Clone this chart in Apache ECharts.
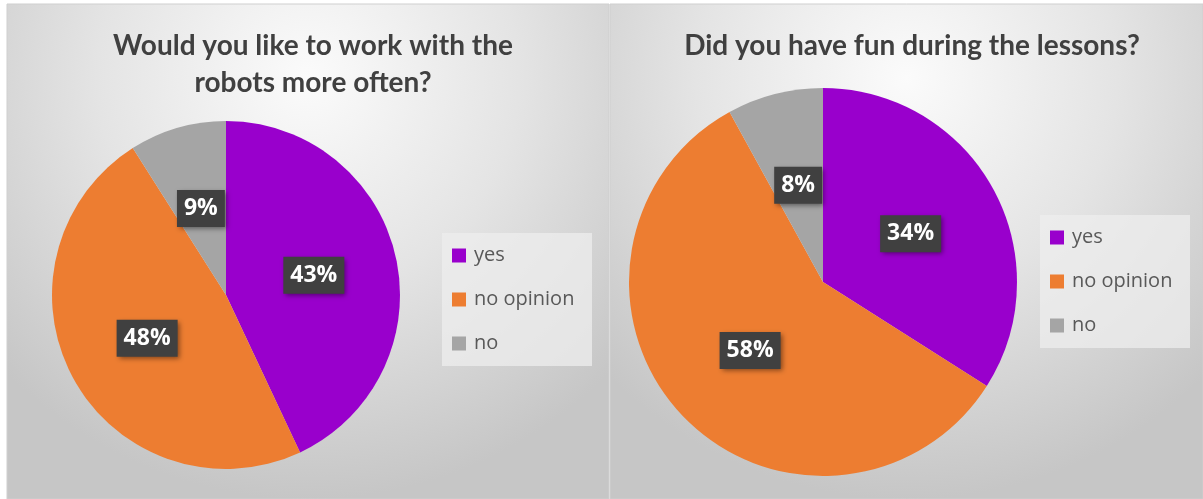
<!DOCTYPE html>
<html>
<head>
<meta charset="utf-8">
<script src="https://cdn.jsdelivr.net/npm/echarts@6/dist/echarts.min.js"></script>
<style>
  html, body { margin: 0; padding: 0; background: #ffffff; }
  #chart { width: 1203px; height: 499px; }
</style>
</head>
<body>
<div id="chart"></div>
<script>
// answers, shared by both charts
var categories = ['yes', 'no opinion', 'no'];
var colors = ['#9900cc', '#ed7d31', '#a5a5a5'];

// left: work with robots more often
var robotValues = [43, 48, 9];
// right: fun during the lessons
var funValues = [34, 58, 8];

var titles = ['Would you like to work with the\nrobots more often?', 'Did you have fun during the lessons?'];

function toData(values) {
    return categories.map(function (name, i) {
        return {name: name, value: values[i], itemStyle: {color: colors[i]}};
    });
}

function panelBg(x, w) {
    return {
        type: 'rect',
        shape: {x: x, y: 4, width: w, height: 495},
        style: {
            fill: new echarts.graphic.RadialGradient(0.5, 0.15, 0.85, [
                {offset: 0, color: '#fbfbfb'},
                {offset: 0.5, color: '#e4e4e4'},
                {offset: 1, color: '#c6c6c6'}
            ]),
            stroke: '#cfcfcf',
            lineWidth: 1
        },
        z: -10
    };
}

var labelStyle = {
    show: true,
    position: 'inside',
    formatter: '{c}%',
    color: '#ffffff',
    fontFamily: 'Open Sans',
    fontWeight: 'bold',
    fontSize: 23,
    backgroundColor: '#404040',
    padding: [8, 7, 6, 7],
    shadowColor: 'rgba(0,0,0,0.45)',
    shadowBlur: 5,
    shadowOffsetX: 2,
    shadowOffsetY: 2
};

var legendBase = {
    orient: 'vertical',
    icon: 'rect',
    itemWidth: 14,
    itemHeight: 14,
    itemGap: 23,
    backgroundColor: 'rgba(238,238,238,0.75)',
    padding: [12, 10, 12, 10],
    selectedMode: false,
    textStyle: {color: '#595959', fontFamily: 'Open Sans', fontSize: 20, lineHeight: 21, padding: [0, 0, 0, 3], width: 108},
    data: categories
};

var titleFont = {color: '#404040', fontFamily: 'Lato', fontWeight: 'bold', fontSize: 28, lineHeight: 37};

var chart = echarts.init(document.getElementById('chart'));
var option = {
    animation: false,
    graphic: [panelBg(7, 602), panelBg(610, 593)],
    title: [{
        text: titles[0],
        left: 308,
        top: 22,
        textAlign: 'center',
        textStyle: titleFont
    }, {
        text: titles[1],
        left: 907,
        top: 22,
        textAlign: 'center',
        textStyle: titleFont
    }],
    legend: [
        Object.assign({}, legendBase, {left: 442, top: 233}),
        Object.assign({}, legendBase, {left: 1040, top: 215})
    ],
    series: [{
        type: 'pie',
        center: [226, 295],
        radius: 174,
        startAngle: 90,
        clockwise: true,
        label: labelStyle,
        labelLine: {show: false},
        emphasis: {disabled: true},
        data: toData(robotValues)
    }, {
        type: 'pie',
        center: [823, 282],
        radius: 194,
        startAngle: 90,
        clockwise: true,
        label: labelStyle,
        labelLine: {show: false},
        emphasis: {disabled: true},
        data: toData(funValues)
    }]
};
chart.setOption(option);
</script>
</body>
</html>
